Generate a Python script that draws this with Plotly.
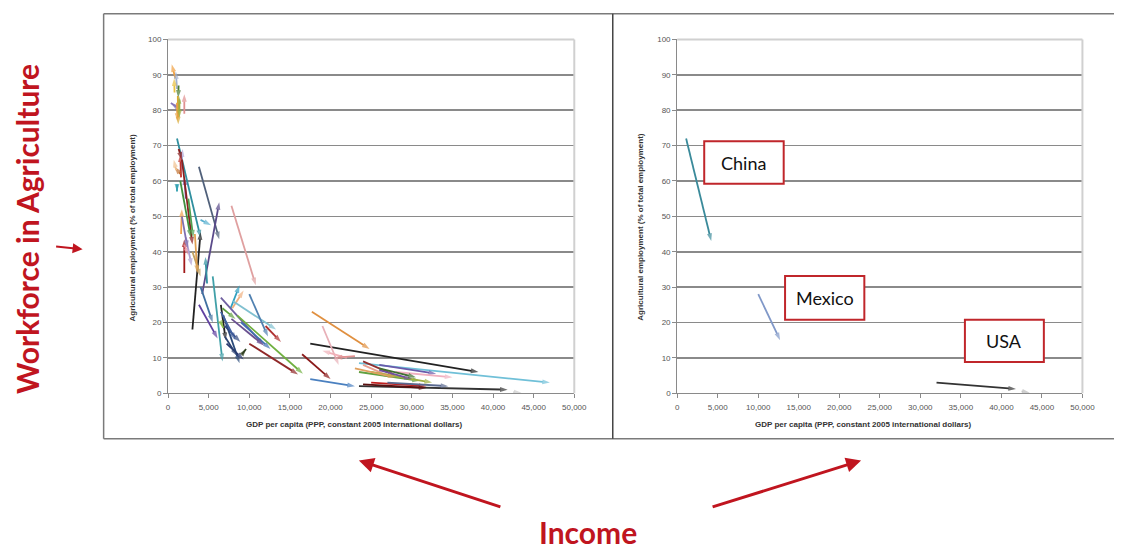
import plotly.graph_objects as go

# ---------------- data: left panel (all countries) ----------------
left_x0 = [900, 1100, 800, 1000, 1300, 1300, 2000, 1200, 1100, 1400,
           1100, 1500, 1600, 1300, 1500, 1000, 2200, 1100, 1700, 1500,
           3800, 4200, 4000, 1600, 2000, 3000, 2500, 4800, 7800, 2000,
           2200, 3000, 1700, 3300,
           7700, 7900, 8000, 10000, 12000, 6500, 9000, 8500, 10000, 5500,
           3800, 4000, 6500, 9100, 6700, 6500, 6800, 7200, 7000, 6500,
           7000, 7800,
           17700, 17500, 19000, 22000, 23000, 16500, 23500, 17500, 26000, 23500,
           25000, 24000, 27000, 28000, 24000, 24000, 23500, 25000, 26000, 23000,
           26000, 42500]
left_y0 = [89, 86, 85, 81, 87, 78, 79, 84, 82, 83,
           72, 62, 61, 69, 62, 63, 55, 59, 66, 60,
           64, 28, 49, 45, 34, 18, 55, 31, 53, 42,
           44, 40, 50, 45,
           24, 24, 26, 28, 19, 27, 20, 22, 14, 33,
           25, 30, 25, 11, 24, 20, 22, 14, 19, 23,
           16, 21,
           23, 14, 19, 10, 10.5, 11, 8.5, 4, 8, 2,
           3, 2.5, 3, 6, 9, 8, 6, 6, 6.5, 7,
           7, 0.3]
left_x1 = [450, 950, 750, 350, 1250, 1350, 2000, 1250, 1150, 1400,
           4000, 1800, 1500, 1700, 800, 700, 2000, 1100, 3000, 2800,
           6300, 6300, 5300, 1700, 2000, 4000, 3100, 4600, 10800, 2500,
           2900, 4000, 2400, 3600,
           8800, 9300, 13300, 12300, 13900, 11800, 12600, 16600, 16000, 6700,
           6100, 5500, 7100, 9600, 8300, 6800, 8800, 9300, 8900, 8300,
           8500, 11800,
           24800, 38200, 21000, 19000, 20500, 20000, 47000, 23000, 33000, 41800,
           31800, 31800, 34500, 35000, 28000, 27500, 31000, 32500, 30000, 28000,
           30500, 43500]
left_y1 = [93, 91, 89, 82, 83.5, 84, 84.5, 76, 77, 78,
           44, 69, 67.5, 66, 64, 66, 61, 57, 42, 44,
           43.5, 54, 47.5, 52, 43.5, 45.5, 44, 38.5, 30.5, 39,
           36, 33, 41, 34,
           30.5, 29, 18, 16, 14.5, 13.5, 12.5, 5.5, 5.3, 9,
           15.5, 20, 15, 12.5, 21, 18.5, 8.5, 9.5, 14.5, 15,
           10.5, 13.5,
           12.5, 6, 8, 12, 10, 4, 3, 2, 5.5, 1,
           2, 1.5, 2, 4.5, 5, 4.5, 3.5, 3, 4, 4.5,
           4.5, 0.1]

# ---------------- data: right panel (highlighted countries) ----------------
countries = ["China", "Mexico", "USA", ""]
right_x0 = [1100, 10000, 32000, 42500]
right_y0 = [72, 28, 3, 0.5]
right_x1 = [4200, 12700, 41800, 43500]
right_y1 = [43, 15, 1.2, 0.1]

# label boxes in data units of the right panel
box_x0 = [3335, 13310, 35500]
box_x1 = [13140, 23090, 45240]
box_y0 = [59.2, 20.8, 8.8]
box_y1 = [71.2, 33.1, 20.8]

x_ticks = list(range(0, 50001, 5000))
y_ticks = list(range(0, 101, 10))

# ---------------- styles ----------------
left_colors = ["#f0a040", "#a0b0d0", "#e8c040", "#8878b8", "#4a7a30", "#70a040", "#e09090", "#d8a830", "#e8a040", "#a0b040",
               "#2f8f9f", "#b0a8d8", "#c0302a", "#8b1a1a", "#c07030", "#f0c090", "#7050a0", "#31a0b0", "#8b2020", "#409040",
               "#50607a", "#5a4a8a", "#5ab0d0", "#f0a050", "#a01818", "#222222", "#50a050", "#3090a0", "#e0a0a0", "#e890a0",
               "#b0a0d0", "#c0a060", "#8070b0", "#e0a050",
               "#30a0c0", "#f0b080", "#80c0d0", "#5080b0", "#b03030", "#7060a0", "#4070b0", "#70b040", "#902828", "#40a0a8",
               "#6040a0", "#4070a0", "#222222", "#304020", "#60a040", "#90c050", "#2a4a7a", "#283870", "#304880", "#4060a0",
               "#2a4070", "#6a5090",
               "#e09040", "#222222", "#e8b0b8", "#f0b0b8", "#e09090", "#8b1a1a", "#70c0d8", "#4a80c0", "#6a5aaa", "#333333",
               "#c02020", "#5a1010", "#5a6a90", "#f0b0c0", "#903030", "#e8a090", "#60a040", "#a0b040", "#7050a0", "#e0a060",
               "#407030", "#cccccc"]
right_colors = ["#3a8a9a", "#8098c8", "#333333", "#bbbbbb"]

RED = "#c0151f"
GRID = "#8a8a8a"
TICKFONT = dict(family="Liberation Sans", size=8, color="#555555")

fig = go.Figure()


def add_arrow(x0, y0, x1, y1, color, xa, ya):
    fig.add_trace(go.Scatter(
        x=[x0, x1], y=[y0, y1], mode="lines+markers",
        line=dict(color=color, width=1.8),
        marker=dict(symbol=["circle", "arrow"], size=[0, 8], color=color,
                    angleref="previous", line=dict(width=0)),
        xaxis=xa, yaxis=ya, showlegend=False, hoverinfo="skip"))


for i in range(len(left_x0)):
    add_arrow(left_x0[i], left_y0[i], left_x1[i], left_y1[i], left_colors[i], "x", "y")
for i in range(len(right_x0)):
    add_arrow(right_x0[i], right_y0[i], right_x1[i], right_y1[i], right_colors[i], "x2", "y2")

W, H = 1127, 550
LX = [168.3 / W, 580 / W]
RX = [684.3 / W, 1095 / W]
YD = [1 - 395.7 / H, 1 - 36 / H]

axis_common = dict(
    showgrid=False, zeroline=False, showline=True, linecolor="#8a8a8a", linewidth=1,
    ticks="outside", ticklen=4, tickcolor="#8a8a8a", tickfont=TICKFONT, fixedrange=True)
xcommon = dict(axis_common, range=[0, 50000], tickvals=x_ticks, tickformat=",d", ticklabelstandoff=2)
ycommon = dict(axis_common, range=[0, 100], tickvals=y_ticks, showgrid=True, gridcolor=GRID, gridwidth=1.6)

fig.update_layout(
    width=W, height=H, autosize=False,
    margin=dict(l=0, r=0, t=0, b=0),
    paper_bgcolor="white", plot_bgcolor="white",
    xaxis=dict(xcommon, domain=LX, anchor="y"),
    yaxis=dict(ycommon, domain=YD, anchor="x"),
    xaxis2=dict(xcommon, domain=RX, anchor="y2"),
    yaxis2=dict(ycommon, domain=YD, anchor="x2"),
)

shapes = []
# plot-area top/right borders (light grey)
for xr, yr in (("x", "y"), ("x2", "y2")):
    shapes.append(dict(type="line", xref=xr + " domain", yref=yr + " domain", x0=0, x1=1, y0=1, y1=1,
                       line=dict(color="#d0d0d0", width=2), layer="above"))
    shapes.append(dict(type="line", xref=xr + " domain", yref=yr + " domain", x0=1, x1=1, y0=0, y1=1,
                       line=dict(color="#d0d0d0", width=2), layer="above"))
# slide frames
FR = dict(color="#7a7a7a", width=1.5)
shapes += [
    dict(type="line", xref="paper", yref="paper", x0=103 / W, x1=1, y0=1 - 10 / H, y1=1 - 10 / H, line=FR),
    dict(type="line", xref="paper", yref="paper", x0=103 / W, x1=1, y0=1 - 442 / H, y1=1 - 442 / H, line=FR),
    dict(type="line", xref="paper", yref="paper", x0=103 / W, x1=103 / W, y0=1 - 10 / H, y1=1 - 442 / H, line=FR),
    dict(type="line", xref="paper", yref="paper", x0=619 / W, x1=619 / W, y0=1 - 10 / H, y1=1 - 442 / H,
         line=dict(color="#444444", width=1.5)),
]
# country label boxes
for i in range(len(box_x0)):
    shapes.append(dict(type="rect", xref="x2", yref="y2", x0=box_x0[i], x1=box_x1[i], y0=box_y0[i], y1=box_y1[i],
                       line=dict(color="#c0262b", width=2), fillcolor="white", layer="above"))
fig.update_layout(shapes=shapes)

C = dict(xanchor="center", yanchor="middle", showarrow=False, xref="paper", yref="paper")
ann = []
for i in range(len(box_x0)):
    ann.append(dict(x=(box_x0[i] + box_x1[i]) / 2, y=(box_y0[i] + box_y1[i]) / 2, xref="x2", yref="y2",
                    xanchor="center", yanchor="middle",
                    text=countries[i], showarrow=False,
                    font=dict(family="Lato", size=18, color="#111111")))

TITLE_FONT = dict(family="Liberation Sans", size=8, color="#333333")
ytitle = "<b>Agricultural employment (% of total employment)</b>"
xtitle = "<b>GDP per capita (PPP, constant 2005 international dollars)</b>"
ann += [
    dict(C, x=132 / W, y=1 - 228 / H, text=ytitle, textangle=-90, font=TITLE_FONT),
    dict(C, x=647 / W, y=1 - 227 / H, text=ytitle, textangle=-90, font=TITLE_FONT),
    dict(C, x=357 / W, y=1 - 428 / H, text=xtitle, font=TITLE_FONT),
    dict(C, x=873 / W, y=1 - 428 / H, text=xtitle, font=TITLE_FONT),
    # slide labels
    dict(C, x=26 / W, y=1 - 229 / H, text="<b>Workforce in Agriculture</b>", textangle=-90,
         font=dict(family="Lato", size=30, color=RED)),
    dict(C, x=594 / W, y=1 - 537 / H, text="<b>Income</b>",
         font=dict(family="Lato", size=30, color=RED)),
]
# red pointer arrows
A = dict(xref="paper", yref="paper", axref="pixel", ayref="pixel", text="", showarrow=True,
         arrowhead=2, arrowsize=1, arrowcolor=RED)
ann += [
    dict(A, x=361.7 / W, y=1 - 464 / H, ax=143, ay=47, arrowwidth=3),
    dict(A, x=870.7 / W, y=1 - 464 / H, ax=-150, ay=47, arrowwidth=3),
    dict(A, x=81.7 / W, y=1 - 249.3 / H, ax=-28, ay=-3, arrowwidth=2),
]
fig.update_layout(annotations=ann)

fig.write_html(
    "out.html",
    config={"displayModeBar": False, "staticPlot": True},
    post_script=("document.documentElement.style.overflow='hidden';"
                 "document.body.style.margin='0';"
                 "document.body.style.overflow='hidden';"),
)
